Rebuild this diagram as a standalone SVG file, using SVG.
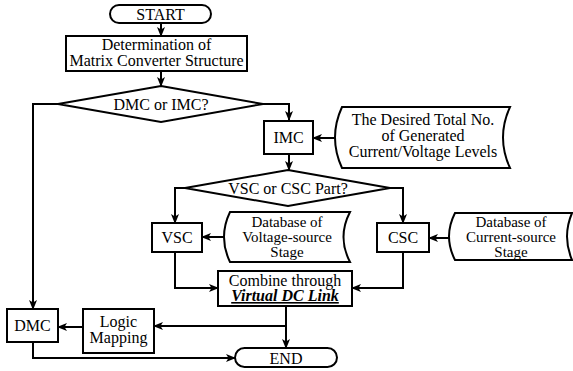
<svg xmlns="http://www.w3.org/2000/svg" width="573" height="371" viewBox="0 0 573 371">
<defs>
<marker id="ah" markerWidth="10" markerHeight="8" refX="9" refY="4" orient="auto" markerUnits="userSpaceOnUse">
<path d="M0,0 L10,4 L0,8 L2.5,4 Z" fill="#000"/>
</marker>
<style>
.s{fill:#fff;stroke:#000;stroke-width:2}
.c{fill:none;stroke:#000;stroke-width:2;marker-end:url(#ah)}
text{font-family:"Liberation Serif","Times New Roman",serif;font-size:16px;fill:#000;text-anchor:middle}
.d{font-size:15px}
.b{font-weight:bold;font-style:italic;text-decoration:underline}
</style>
</defs>
<rect width="573" height="371" fill="#fff"/>
<g id="connectors">
<path class="c" d="M161,23 V36"/>
<path class="c" d="M161,71 V86"/>
<path class="c" d="M58,104 H33 V309"/>
<path class="c" d="M263,104 H289 V120"/>
<path class="c" d="M335,138 H313"/>
<path class="c" d="M289,154 V170"/>
<path class="c" d="M185,188 H175 V223"/>
<path class="c" d="M390,188 H403 V223"/>
<path class="c" d="M224,237 H202"/>
<path class="c" d="M449,238 H429"/>
<path class="c" d="M175,252 V288 H218"/>
<path class="c" d="M403,252 V288 H352"/>
<path class="c" d="M286,306 V348"/>
<path class="c" d="M286,326 H154"/>
<path class="c" d="M83,327 H58"/>
<path class="c" d="M33,342 V358 H235"/>
</g>
<g id="start">
<rect class="s" x="110" y="5" width="101" height="18" rx="9" ry="9"/>
<text x="160.5" y="19.5">START</text>
</g>
<g id="determination">
<rect class="s" x="66" y="36" width="181" height="35"/>
<text x="156.5" y="50">Determination of</text>
<text x="156.5" y="66">Matrix Converter Structure</text>
</g>
<g id="dmc-imc">
<polygon class="s" points="161,86 263,104 161,122 58,104"/>
<text x="161" y="109.5">DMC or IMC?</text>
</g>
<g id="imc">
<rect class="s" x="264" y="121" width="49" height="33"/>
<text x="288.5" y="143">IMC</text>
</g>
<g id="desired">
<path class="s" d="M342,107 H510 Q496,137.5 510,168 H342 Q328,137.5 342,107 Z"/>
<text x="423" y="125">The Desired Total No.</text>
<text x="423" y="141">of Generated</text>
<text x="423" y="157">Current/Voltage Levels</text>
</g>
<g id="vsc-csc">
<polygon class="s" points="288,170 390,188 288,206 185,188"/>
<text x="288" y="193.5">VSC or CSC Part?</text>
</g>
<g id="vsc">
<rect class="s" x="152" y="223" width="50" height="29"/>
<text x="177" y="243">VSC</text>
</g>
<g id="csc">
<rect class="s" x="377" y="223" width="52" height="29"/>
<text x="403" y="243">CSC</text>
</g>
<g id="db-voltage">
<path class="s" d="M230,212 H350 Q337,237 350,262 H230 Q218,237 230,212 Z"/>
<text class="d" x="287" y="227">Database of</text>
<text class="d" x="287" y="242">Voltage-source</text>
<text class="d" x="287" y="257">Stage</text>
</g>
<g id="db-current">
<path class="s" d="M455,213 H572 Q562,236.5 572,260 H455 Q443,236.5 455,213 Z"/>
<text class="d" x="511" y="227">Database of</text>
<text class="d" x="511" y="242">Current-source</text>
<text class="d" x="511" y="257">Stage</text>
</g>
<g id="combine">
<rect class="s" x="218" y="271" width="134" height="35"/>
<text x="285" y="285.5">Combine through</text>
<text x="285" y="301" class="b">Virtual DC Link</text>
</g>
<g id="logic">
<rect class="s" x="83" y="309" width="71" height="44"/>
<text x="118.5" y="327">Logic</text>
<text x="118.5" y="343">Mapping</text>
</g>
<g id="dmc">
<rect class="s" x="7" y="309" width="51" height="33"/>
<text x="32.5" y="331">DMC</text>
</g>
<g id="end">
<rect class="s" x="235" y="348" width="102" height="19" rx="9.5" ry="9.5"/>
<text x="286" y="363.5">END</text>
</g>
</svg>
